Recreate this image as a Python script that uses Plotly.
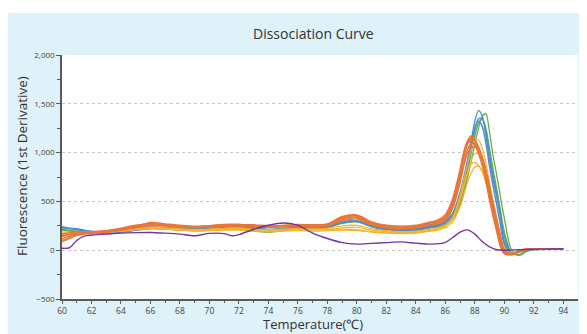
import plotly.graph_objects as go

# Temperature grid (°C)
temps = [60, 61, 62, 63, 64, 65, 66, 67, 68, 69, 70, 71, 72, 73, 74, 75, 76, 77, 78, 79, 80,
         81, 82, 83, 84, 85, 85.5, 86, 86.5, 87, 87.25, 87.5, 87.75, 88, 88.25, 88.5, 88.75,
         89, 89.25, 89.5, 89.75, 90, 90.5, 91, 91.5, 92, 93, 94]

# Blue wells
blue_1 = [230, 215, 190, 185, 195, 215, 235, 230, 220, 215, 225, 240, 245, 230, 215, 225, 235, 230, 240, 290, 300,
          250, 215, 205, 215, 245, 260, 290, 360, 560, 720, 900, 1110, 1320, 1430, 1380, 1180,
          920, 720, 540, 330, 90, -30, -10, 5, 10, 12, 10]
blue_2 = [215, 220, 185, 175, 190, 210, 225, 230, 215, 210, 220, 230, 230, 215, 205, 220, 230, 225, 235, 280, 295,
          245, 210, 200, 205, 235, 250, 280, 340, 520, 670, 850, 1040, 1230, 1345, 1350, 1220,
          980, 760, 570, 360, 140, -35, -20, 0, 10, 10, 12]
blue_3 = [240, 210, 195, 180, 185, 205, 230, 225, 225, 220, 215, 225, 240, 225, 210, 215, 225, 230, 245, 285, 300,
          255, 220, 210, 220, 250, 265, 300, 380, 590, 740, 920, 1100, 1260, 1320, 1270, 1100,
          860, 650, 460, 250, 60, -40, -15, 5, 8, 10, 10]

# Green wells
green_1 = [200, 190, 180, 175, 185, 205, 220, 215, 210, 200, 205, 215, 215, 195, 185, 200, 215, 215, 230, 275, 290,
           240, 205, 195, 200, 230, 240, 265, 320, 450, 580, 740, 910, 1080, 1250, 1370, 1400,
           1210, 960, 760, 540, 330, 0, -55, -15, 5, 10, 12]
green_2 = [205, 195, 175, 185, 190, 215, 230, 220, 205, 205, 210, 220, 220, 205, 190, 205, 220, 220, 235, 280, 295,
           245, 210, 200, 205, 235, 245, 270, 330, 480, 620, 800, 990, 1170, 1300, 1340, 1250,
           1040, 820, 620, 400, 190, -30, -45, -5, 5, 10, 10]

# Orange wells
orange_1 = [170, 185, 185, 200, 220, 250, 275, 265, 250, 240, 245, 255, 260, 260, 250, 250, 260, 255, 260, 330, 350,
            280, 245, 235, 250, 280, 290, 340, 500, 800, 990, 1120, 1170, 1130, 1050, 940, 790,
            580, 400, 230, 60, -30, -45, -5, 10, 12, 12, 15]
orange_2 = [120, 165, 180, 195, 215, 240, 260, 255, 240, 235, 240, 250, 255, 245, 240, 245, 250, 245, 255, 320, 340,
            270, 240, 230, 240, 270, 280, 325, 470, 760, 950, 1090, 1150, 1130, 1060, 960, 810,
            610, 430, 260, 90, -20, -45, -10, 8, 10, 12, 12]
orange_3 = [85, 150, 175, 190, 210, 240, 285, 270, 255, 245, 250, 260, 265, 255, 245, 255, 265, 260, 270, 345, 360,
            290, 255, 245, 255, 290, 300, 350, 510, 790, 960, 1080, 1120, 1080, 1000, 890, 740,
            540, 370, 200, 40, -35, -40, -5, 10, 10, 15, 15]
orange_4 = [150, 170, 170, 185, 205, 230, 250, 245, 235, 230, 235, 245, 250, 240, 235, 240, 245, 240, 250, 310, 330,
            265, 235, 225, 235, 265, 275, 315, 450, 720, 900, 1030, 1090, 1095, 1040, 950, 820,
            640, 460, 290, 120, -10, -45, -15, 5, 10, 12, 12]
orange_5 = [100, 160, 190, 200, 225, 255, 270, 260, 245, 240, 250, 265, 265, 255, 245, 250, 255, 250, 265, 335, 355,
            285, 250, 240, 245, 285, 310, 365, 530, 830, 1010, 1110, 1135, 1080, 990, 870, 710,
            510, 340, 180, 30, -35, -40, 0, 10, 12, 12, 15]
orange_6 = [140, 175, 180, 190, 210, 235, 255, 250, 240, 235, 240, 245, 250, 245, 240, 245, 250, 245, 250, 300, 320,
            260, 230, 220, 230, 260, 270, 305, 430, 690, 860, 990, 1050, 1060, 1020, 940, 820,
            650, 480, 310, 140, 10, -45, -20, 5, 10, 12, 12]

# Yellow wells
yellow_1 = [175, 180, 185, 195, 205, 225, 235, 230, 220, 210, 215, 225, 230, 215, 210, 215, 225, 220, 225, 250, 255,
            220, 200, 190, 195, 215, 230, 260, 340, 560, 720, 880, 1030, 1125, 1130, 1050, 900,
            700, 500, 320, 140, 10, -40, -15, 5, 10, 12, 12]
yellow_2 = [160, 170, 175, 185, 195, 215, 225, 220, 210, 200, 205, 215, 215, 205, 200, 205, 210, 205, 210, 230, 235,
            205, 190, 180, 185, 205, 220, 250, 320, 520, 660, 800, 920, 990, 990, 930, 810,
            640, 470, 300, 130, 10, -35, -10, 5, 10, 10, 12]
yellow_3 = [150, 175, 180, 190, 200, 220, 230, 225, 215, 205, 210, 220, 225, 210, 205, 210, 215, 210, 215, 215, 210,
            190, 180, 175, 180, 200, 215, 245, 320, 520, 650, 780, 880, 900, 870, 800, 690,
            540, 380, 230, 90, -10, -40, -10, 5, 10, 12, 12]
yellow_4 = [165, 175, 185, 190, 195, 210, 220, 215, 205, 195, 200, 205, 205, 195, 190, 195, 200, 195, 200, 205, 200,
            185, 175, 170, 175, 195, 205, 230, 290, 450, 570, 690, 790, 850, 860, 820, 730,
            600, 450, 300, 150, 30, -35, -15, 5, 10, 10, 12]

# Purple well (own temperature samples)
purple_temps = [60, 60.5, 61, 61.5, 62, 63, 64, 65, 66, 67, 68, 69, 70, 71, 71.5, 72, 73, 74, 75, 76, 77, 78,
                79, 80, 81, 82, 83, 84, 85, 86, 86.5, 87, 87.5, 88, 88.5, 89, 89.5, 90, 91, 92, 93, 94]
purple_vals = [20, 25, 100, 145, 155, 165, 175, 180, 182, 175, 165, 148, 172, 170, 148, 160, 215, 255, 278, 255, 175, 120,
               78, 62, 70, 78, 85, 72, 62, 80, 130, 185, 208, 165, 90, 35, 5, 0, 5, 10, 12, 15]

x_ticks = [60, 62, 64, 66, 68, 70, 72, 74, 76, 78, 80, 82, 84, 86, 88, 90, 92, 94]
y_ticks = [-500, 0, 500, 1000, 1500, 2000]

BLUE = "#4A90CF"
GREEN = "#6AAB45"
ORANGE = "#E8763A"
YELLOW = "#F5B22B"
PURPLE = "#7434A2"

series = [
    (green_1, GREEN, 1.3), (green_2, GREEN, 1.3),
    (blue_1, BLUE, 1.3), (blue_2, BLUE, 1.5), (blue_3, BLUE, 1.5),
    (yellow_1, YELLOW, 1.2), (yellow_2, YELLOW, 1.2), (yellow_3, YELLOW, 1.2), (yellow_4, YELLOW, 1.2),
    (orange_1, ORANGE, 1.4), (orange_2, ORANGE, 1.4), (orange_3, ORANGE, 1.4),
    (orange_4, ORANGE, 1.4), (orange_5, ORANGE, 1.4), (orange_6, ORANGE, 1.4),
]

fig = go.Figure()
for vals, col, w in series:
    fig.add_trace(go.Scatter(x=temps, y=vals, mode="lines",
                             line=dict(color=col, width=w, shape="spline", smoothing=0.8),
                             hoverinfo="skip", showlegend=False))
fig.add_trace(go.Scatter(x=purple_temps, y=purple_vals, mode="lines",
                         line=dict(color=PURPLE, width=1.4, shape="spline", smoothing=0.8),
                         hoverinfo="skip", showlegend=False))

BG = "#DFF1F9"
AX = "#5a5a5a"
OFF = 8  # page body margin offsets the figure by 8 px
W, H = 587 - OFF, 334 - OFF
PL, PT, PW, PH = 62 - OFF, 55 - OFF, 516, 244  # plot area in figure pixels

def px_x(p):  # screen pixel -> paper x
    return (p - OFF - PL) / PW

def px_y(p):  # screen pixel -> paper y
    return (PT + PH - (p - OFF)) / PH

fig.update_layout(
    width=W, height=H,
    margin=dict(l=PL, r=W - PL - PW, t=PT, b=H - PT - PH),
    paper_bgcolor=BG, plot_bgcolor="white",
    font=dict(family="Open Sans, sans-serif", color="#333333"),
    xaxis=dict(range=[60, 95], tickvals=x_ticks, ticks="outside", ticklen=3, tickwidth=1, tickcolor=AX,
               showline=True, linecolor=AX, linewidth=1.5, showgrid=False, zeroline=False,
               tickfont=dict(size=8.5, color="#444444"),
               minor=dict(tickvals=[61, 63, 65, 67, 69, 71, 73, 75, 77, 79, 81, 83, 85, 87, 89, 91, 93],
                          ticks="outside", ticklen=2, tickcolor=AX)),
    yaxis=dict(range=[-500, 2000], tickvals=y_ticks, tickformat=",", ticks="outside", ticklen=4, tickcolor=AX,
               showline=True, linecolor=AX, linewidth=1.5, zeroline=False,
               showgrid=True, gridcolor="#C4C4C4", griddash="3px,3px", gridwidth=1,
               tickfont=dict(size=8, color="#444444"),
               minor=dict(tickvals=[-250, 250, 750, 1250, 1750], ticks="outside", ticklen=3, tickcolor=AX,
                          showgrid=False)),
    annotations=[
        dict(text="Dissociation Curve", xref="paper", yref="paper", x=px_x(313), y=px_y(33),
             xanchor="center", yanchor="middle", showarrow=False, font=dict(size=14, color="#333333")),
        dict(text="Temperature(℃)", xref="paper", yref="paper", x=px_x(313), y=px_y(324),
             xanchor="center", yanchor="middle", showarrow=False, font=dict(size=13, color="#333333")),
        dict(text="Fluorescence (1st Derivative)", xref="paper", yref="paper", x=px_x(22), y=px_y(166),
             xanchor="center", yanchor="middle", textangle=-90, showarrow=False,
             font=dict(size=13.5, color="#333333")),
    ],
    shapes=[
        dict(type="rect", xref="paper", yref="paper", x0=-0.2, x1=1.1, y0=px_y(13), y1=1.4,
             fillcolor="white", line=dict(width=0), layer="below"),
    ],
)

fig.write_html("out.html")
